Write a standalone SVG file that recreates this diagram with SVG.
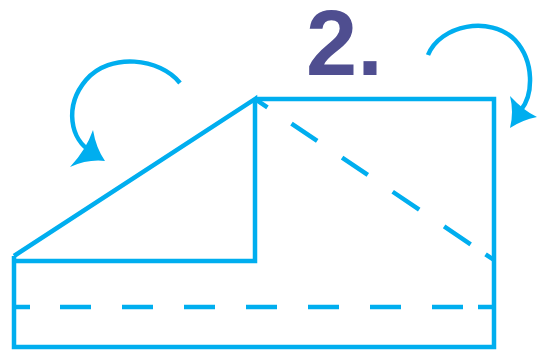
<svg xmlns="http://www.w3.org/2000/svg" width="538" height="357" viewBox="0 0 538 357">
<style>
.ln{fill:none;stroke:#00AEEF;stroke-width:4.5;stroke-linejoin:miter}
.ds{fill:none;stroke:#00AEEF;stroke-width:4.5}
.ah{fill:#00AEEF;stroke:none}
.lbl{font-family:"Liberation Sans",Arial,sans-serif;font-weight:bold;font-size:92px;fill:#4F4E90}
</style>
<rect width="538" height="357" fill="#ffffff"/>
<g id="paper">
<path class="ln" d="M14,256 L255,99 L255,261 L14,261"/>
<path class="ln" d="M14,256 L14,347 L494,347 L494,99 L255,99"/>
</g>
<g id="folds">
<line class="ds" x1="14" y1="307" x2="494" y2="307" stroke-dasharray="16 30 31 31 31 31 31 31 31 31 31 31 31 31 31 15 20"/>
<line class="ds" x1="255" y1="99" x2="494" y2="260" stroke-dasharray="15 29 31 30 31 30 32 30 32 18 14"/>
</g>
<g id="label">
<text class="lbl" x="306" y="75">2.</text>
</g>
<g id="connectors">
<path class="ln" d="M180,83 C160,58 110,52 86,80 C64,106 70,140 92,152"/>
<path class="ah" d="M105,161 Q88,159 70,167 Q86,150 93,130 Q96,148 105,161 Z"/>
<path class="ln" d="M428,55 C440,25 490,15 515,40 C535,62 533,95 521,110"/>
<path class="ah" d="M510,128 Q514,112 510,96 Q524,111 537,117 Q522,120 510,128 Z"/>
</g>
</svg>
